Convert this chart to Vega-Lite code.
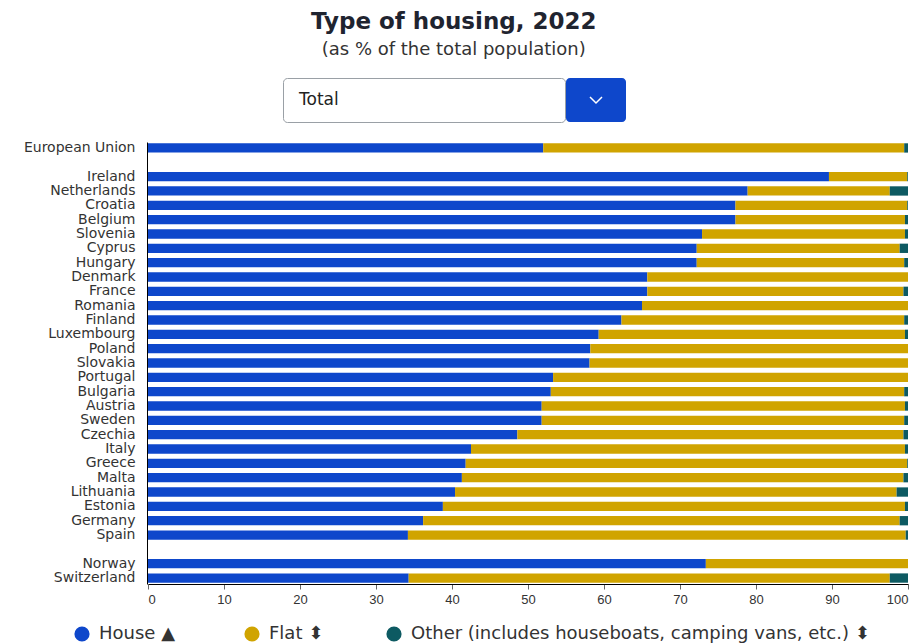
{
  "$schema": "https://vega.github.io/schema/vega-lite/v6.json",
  "background": "white",
  "padding": {"left": 5, "top": 10, "right": 5, "bottom": 0},
  "title": {
    "text": "Type of housing, 2022",
    "subtitle": "(as % of the total population)",
    "font": "DejaVu Sans",
    "fontSize": 23,
    "fontWeight": "bold",
    "color": "#1f2430",
    "subtitleFont": "DejaVu Sans",
    "subtitleFontSize": 18,
    "subtitleColor": "#333333",
    "subtitlePadding": 7,
    "anchor": "middle",
    "dx": -3,
    "offset": 19
  },
  "config": {"view": {"stroke": null}, "font": "Liberation Sans"},
  "spacing": 17,
  "vconcat": [
    {
      "spacing": 0,
      "hconcat": [
        {
          "width": 134,
          "height": 44,
          "data": {"values": []},
          "mark": {"type": "point"},
          "encoding": {}
        },
        {
          "width": 282,
          "height": 44,
          "view": {"fill": "white", "stroke": "#9aa0a6", "cornerRadius": 4},
          "data": {"values": [{"label": "Total"}]},
          "mark": {"type": "text", "align": "left", "dx": -125, "fontSize": 17, "color": "#222222", "font": "DejaVu Sans"},
          "encoding": {"text": {"field": "label", "type": "nominal"}}
        },
        {
          "width": 60,
          "height": 44,
          "view": {"fill": "#0E47CB", "stroke": null, "cornerRadius": 4},
          "data": {"values": [{"label": "open"}]},
          "mark": {"type": "point", "shape": "M-1,-0.5L0,0.5L1,-0.5", "size": 144, "stroke": "white", "strokeWidth": 1.5, "filled": false, "opacity": 1},
          "encoding": {}
        }
      ]
    },
    {
      "width": 760,
      "height": 442,
      "data": {
        "values": [
          {"country": "European Union", "type": "House", "value": 52.0},
          {"country": "European Union", "type": "Flat", "value": 47.5},
          {"country": "European Union", "type": "Other (includes houseboats, camping vans, etc.)", "value": 0.5},
          {"country": "Ireland", "type": "House", "value": 89.6},
          {"country": "Ireland", "type": "Flat", "value": 10.3},
          {"country": "Ireland", "type": "Other (includes houseboats, camping vans, etc.)", "value": 0.1},
          {"country": "Netherlands", "type": "House", "value": 78.9},
          {"country": "Netherlands", "type": "Flat", "value": 18.7},
          {"country": "Netherlands", "type": "Other (includes houseboats, camping vans, etc.)", "value": 2.4},
          {"country": "Croatia", "type": "House", "value": 77.3},
          {"country": "Croatia", "type": "Flat", "value": 22.6},
          {"country": "Croatia", "type": "Other (includes houseboats, camping vans, etc.)", "value": 0.1},
          {"country": "Belgium", "type": "House", "value": 77.3},
          {"country": "Belgium", "type": "Flat", "value": 22.3},
          {"country": "Belgium", "type": "Other (includes houseboats, camping vans, etc.)", "value": 0.4},
          {"country": "Slovenia", "type": "House", "value": 72.9},
          {"country": "Slovenia", "type": "Flat", "value": 26.7},
          {"country": "Slovenia", "type": "Other (includes houseboats, camping vans, etc.)", "value": 0.4},
          {"country": "Cyprus", "type": "House", "value": 72.2},
          {"country": "Cyprus", "type": "Flat", "value": 26.7},
          {"country": "Cyprus", "type": "Other (includes houseboats, camping vans, etc.)", "value": 1.1},
          {"country": "Hungary", "type": "House", "value": 72.2},
          {"country": "Hungary", "type": "Flat", "value": 27.3},
          {"country": "Hungary", "type": "Other (includes houseboats, camping vans, etc.)", "value": 0.5},
          {"country": "Denmark", "type": "House", "value": 65.7},
          {"country": "Denmark", "type": "Flat", "value": 34.3},
          {"country": "Denmark", "type": "Other (includes houseboats, camping vans, etc.)", "value": 0.0},
          {"country": "France", "type": "House", "value": 65.7},
          {"country": "France", "type": "Flat", "value": 33.7},
          {"country": "France", "type": "Other (includes houseboats, camping vans, etc.)", "value": 0.6},
          {"country": "Romania", "type": "House", "value": 65.0},
          {"country": "Romania", "type": "Flat", "value": 35.0},
          {"country": "Romania", "type": "Other (includes houseboats, camping vans, etc.)", "value": 0.0},
          {"country": "Finland", "type": "House", "value": 62.3},
          {"country": "Finland", "type": "Flat", "value": 37.2},
          {"country": "Finland", "type": "Other (includes houseboats, camping vans, etc.)", "value": 0.5},
          {"country": "Luxembourg", "type": "House", "value": 59.3},
          {"country": "Luxembourg", "type": "Flat", "value": 40.3},
          {"country": "Luxembourg", "type": "Other (includes houseboats, camping vans, etc.)", "value": 0.4},
          {"country": "Poland", "type": "House", "value": 58.2},
          {"country": "Poland", "type": "Flat", "value": 41.8},
          {"country": "Poland", "type": "Other (includes houseboats, camping vans, etc.)", "value": 0.0},
          {"country": "Slovakia", "type": "House", "value": 58.1},
          {"country": "Slovakia", "type": "Flat", "value": 41.9},
          {"country": "Slovakia", "type": "Other (includes houseboats, camping vans, etc.)", "value": 0.0},
          {"country": "Portugal", "type": "House", "value": 53.3},
          {"country": "Portugal", "type": "Flat", "value": 46.7},
          {"country": "Portugal", "type": "Other (includes houseboats, camping vans, etc.)", "value": 0.0},
          {"country": "Bulgaria", "type": "House", "value": 53.0},
          {"country": "Bulgaria", "type": "Flat", "value": 46.5},
          {"country": "Bulgaria", "type": "Other (includes houseboats, camping vans, etc.)", "value": 0.5},
          {"country": "Austria", "type": "House", "value": 51.8},
          {"country": "Austria", "type": "Flat", "value": 47.8},
          {"country": "Austria", "type": "Other (includes houseboats, camping vans, etc.)", "value": 0.4},
          {"country": "Sweden", "type": "House", "value": 51.8},
          {"country": "Sweden", "type": "Flat", "value": 47.7},
          {"country": "Sweden", "type": "Other (includes houseboats, camping vans, etc.)", "value": 0.5},
          {"country": "Czechia", "type": "House", "value": 48.6},
          {"country": "Czechia", "type": "Flat", "value": 50.8},
          {"country": "Czechia", "type": "Other (includes houseboats, camping vans, etc.)", "value": 0.6},
          {"country": "Italy", "type": "House", "value": 42.5},
          {"country": "Italy", "type": "Flat", "value": 57.1},
          {"country": "Italy", "type": "Other (includes houseboats, camping vans, etc.)", "value": 0.4},
          {"country": "Greece", "type": "House", "value": 41.8},
          {"country": "Greece", "type": "Flat", "value": 58.1},
          {"country": "Greece", "type": "Other (includes houseboats, camping vans, etc.)", "value": 0.1},
          {"country": "Malta", "type": "House", "value": 41.3},
          {"country": "Malta", "type": "Flat", "value": 58.1},
          {"country": "Malta", "type": "Other (includes houseboats, camping vans, etc.)", "value": 0.6},
          {"country": "Lithuania", "type": "House", "value": 40.4},
          {"country": "Lithuania", "type": "Flat", "value": 58.1},
          {"country": "Lithuania", "type": "Other (includes houseboats, camping vans, etc.)", "value": 1.5},
          {"country": "Estonia", "type": "House", "value": 38.8},
          {"country": "Estonia", "type": "Flat", "value": 60.8},
          {"country": "Estonia", "type": "Other (includes houseboats, camping vans, etc.)", "value": 0.4},
          {"country": "Germany", "type": "House", "value": 36.2},
          {"country": "Germany", "type": "Flat", "value": 62.7},
          {"country": "Germany", "type": "Other (includes houseboats, camping vans, etc.)", "value": 1.1},
          {"country": "Spain", "type": "House", "value": 34.2},
          {"country": "Spain", "type": "Flat", "value": 65.5},
          {"country": "Spain", "type": "Other (includes houseboats, camping vans, etc.)", "value": 0.3},
          {"country": "Norway", "type": "House", "value": 73.4},
          {"country": "Norway", "type": "Flat", "value": 26.6},
          {"country": "Norway", "type": "Other (includes houseboats, camping vans, etc.)", "value": 0.0},
          {"country": "Switzerland", "type": "House", "value": 34.3},
          {"country": "Switzerland", "type": "Flat", "value": 63.3},
          {"country": "Switzerland", "type": "Other (includes houseboats, camping vans, etc.)", "value": 2.4}
        ]
      },
      "transform": [
        {"calculate": "indexof(['House', 'Flat', 'Other (includes houseboats, camping vans, etc.)'], datum.type)", "as": "ord"}
      ],
      "mark": {"type": "bar"},
      "encoding": {
        "y": {
          "field": "country",
          "type": "nominal",
          "scale": {
            "domain": ["European Union", " ", "Ireland", "Netherlands", "Croatia", "Belgium", "Slovenia", "Cyprus", "Hungary", "Denmark", "France", "Romania", "Finland", "Luxembourg", "Poland", "Slovakia", "Portugal", "Bulgaria", "Austria", "Sweden", "Czechia", "Italy", "Greece", "Malta", "Lithuania", "Estonia", "Germany", "Spain", "  ", "Norway", "Switzerland"],
            "paddingInner": 0.35,
            "paddingOuter": 0.09
          },
          "axis": {
            "title": null,
            "ticks": false,
            "labelFont": "DejaVu Sans",
            "labelFontSize": 14,
            "labelColor": "#333333",
            "labelPadding": 12,
            "labelLimit": 200,
            "domainColor": "#000000",
            "offset": 1,
            "minExtent": 142,
            "maxExtent": 142
          }
        },
        "x": {
          "field": "value",
          "type": "quantitative",
          "stack": "zero",
          "scale": {"domain": [0, 100], "nice": false},
          "axis": {
            "title": null,
            "values": [0, 10, 20, 30, 40, 50, 60, 70, 80, 90, 100],
            "format": "d",
            "grid": false,
            "tickSize": 5,
            "tickColor": "#666666",
            "domainColor": "#000000",
            "labelFontSize": 13,
            "labelPadding": 4,
            "labelColor": "#333333",
            "labelFont": "Liberation Sans Narrow, Liberation Sans"
          }
        },
        "color": {
          "field": "type",
          "type": "nominal",
          "scale": {
            "domain": ["House", "Flat", "Other (includes houseboats, camping vans, etc.)"],
            "range": ["#0E47CB", "#D0A400", "#0D5A62"]
          },
          "legend": {
            "title": null,
            "orient": "none",
            "legendX": -75,
            "legendY": 547,
            "direction": "horizontal",
            "symbolType": "circle",
            "symbolSize": 230,
            "labelFont": "DejaVu Sans",
            "labelFontSize": 18,
            "labelColor": "#333333",
            "labelOffset": 8,
            "columnPadding": 56,
            "labelLimit": 600,
            "labelExpr": "datum.label == 'House' ? datum.label + '   ▲' : datum.label + '  ⬍'"
          }
        },
        "order": {"field": "ord", "type": "quantitative"}
      }
    }
  ]
}
